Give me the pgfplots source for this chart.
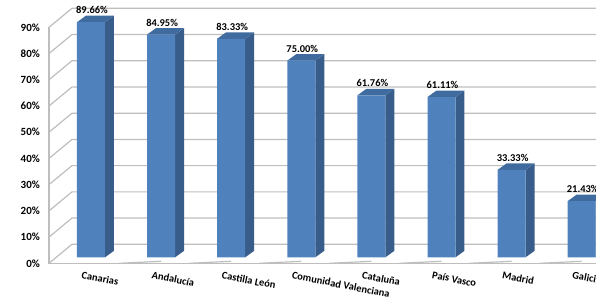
\documentclass[border=0pt]{standalone}
\usepackage{pgfplots}
\pgfplotsset{compat=1.18}
\usepackage{pgfplotstable}
\usepackage{fontspec}
\setmainfont{Carlito}
\definecolor{barfront}{RGB}{79,129,189}
\definecolor{bartop}{RGB}{64,107,158}
\definecolor{barside}{RGB}{56,93,138}
\definecolor{gridc}{RGB}{190,190,190}

\pgfplotstableread{
x y
0 89.66
1 84.95
2 83.33
3 75.00
4 61.76
5 61.11
6 33.33
7 21.43
}\datatable

\begin{document}
\begin{tikzpicture}
\path[use as bounding box] (-49bp,-39.7bp) rectangle (547bp,263.3bp);
\clip (-49bp,-39.7bp) rectangle (547bp,263.3bp);
\begin{axis}[
  at={(0,0)}, anchor=south west,
  scale only axis, width=547bp, height=263.3bp,
  xmin=-0.599, xmax=7.204, ymin=-2.29, ymax=98.13,
  axis line style={draw=none}, tick style={draw=none},
  clip=false,
  /pgf/number format/assume math mode=true,
  ytick={-2.29,7.71,17.71,27.71,37.71,47.71,57.71,67.71,77.71,87.71},
  yticklabels={0\%,10\%,20\%,30\%,40\%,50\%,60\%,70\%,80\%,90\%},
  yticklabel style={anchor=east, inner sep=0pt, xshift=-9bp, font=\bfseries\fontsize{11}{13}\selectfont},
  xtick={-0.1,0.9,1.9,2.9,3.9,4.9,5.9,6.9},
  xticklabels={Canarias,Andalucía,Castilla León,Comunidad Valenciana,Cataluña,País Vasco,Madrid,Galicia},
  xticklabel style={anchor=north west, rotate=-11, inner sep=0pt, yshift=-8bp, font=\bfseries\fontsize{10.5}{12}\selectfont},
]
% walls and grid
\pgfplotsinvokeforeach{0,10,20,30,40,50,60,70,80,90}{
  \draw[gridc, line width=1.2bp] (axis cs:-0.599,#1-2.29) -- (axis cs:-0.271,#1+4.96) -- (axis cs:7.4,#1+4.96);
}
\draw[gridc, line width=1.2bp] (axis cs:-0.599,87.71) -- (axis cs:-0.599,-2.29) -- (axis cs:7.4,-2.29);
\pgfplotsinvokeforeach{1,...,8}{
  \draw[gridc, line width=1.2bp] (axis cs:#1-0.6,-2.29) -- ++(0,-4bp);
}
% 3D faces of bars
\pgfplotsinvokeforeach{0,...,7}{
  \pgfplotstablegetelem{#1}{y}\of\datatable
  \let\val\pgfplotsretval
  \pgfmathsetmacro\vtop{\val+2.48}
  \pgfmathsetmacro\xa{#1+0.2}
  \pgfmathsetmacro\xb{#1+0.328}
  \pgfmathsetmacro\xc{#1-0.2}
  \pgfmathsetmacro\xd{#1-0.072}
  \edef\tmp{%
    \noexpand\addplot[fill=barside, draw=none] coordinates {(\xa,0) (\xb,2.48) (\xb,\vtop) (\xa,\val)};
    \noexpand\addplot[fill=bartop, draw=none] coordinates {(\xc,\val) (\xa,\val) (\xb,\vtop) (\xd,\vtop)};
  }\tmp
}
\addplot[ybar, bar width=28bp, fill=barfront, draw=none,
  nodes near coords={\pgfmathprintnumber[fixed,fixed zerofill,precision=2]{\pgfplotspointmeta}\%},
  every node near coord/.append style={anchor=base, yshift=8.5bp, xshift=1bp, text=black, font=\bfseries\fontsize{10.5}{12}\selectfont}]
  table[x=x,y=y]{\datatable};
\end{axis}
\end{tikzpicture}
\end{document}
